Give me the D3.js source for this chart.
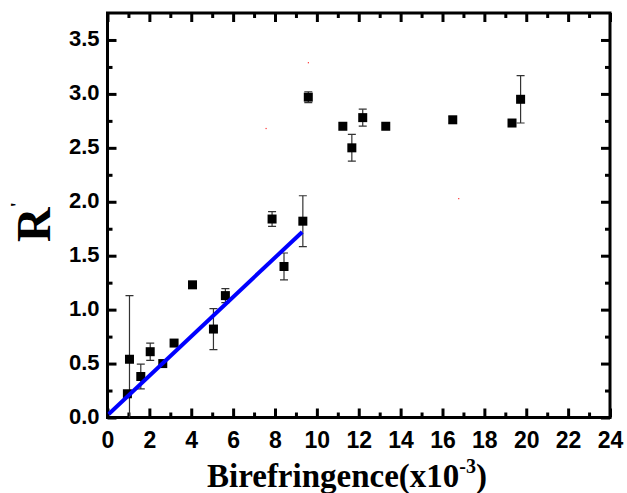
<!DOCTYPE html>
<html>
<head>
<meta charset="utf-8">
<script src="https://cdn.jsdelivr.net/npm/d3@7"></script>
<style>
    html, body { margin: 0; padding: 0; background: #ffffff; }
</style>
</head>
<body>
<div id="chart"></div>
<script>
(function () {

    // birefringence (x10^-3) vs R'
    var birefringence = [0.95, 1.05, 1.59, 2.04, 2.64, 3.18, 4.06, 5.06, 5.63, 7.86, 8.43, 9.33, 9.59, 11.24, 11.67, 12.19, 13.29, 16.49, 19.32, 19.73];
    var r_prime = [0.22, 0.54, 0.38, 0.61, 0.50, 0.69, 1.23, 0.82, 1.13, 1.84, 1.40, 1.82, 2.97, 2.70, 2.50, 2.78, 2.70, 2.76, 2.73, 2.95];
    var r_error = [0, 0.59, 0.115, 0.08, 0, 0, 0, 0.19, 0.065, 0.068, 0.125, 0.236, 0.05, 0, 0.124, 0.078, 0, 0.03, 0, 0.22];

    // linear fit, drawn between its two end points
    var fit_x = [0.05, 9.3];
    var fit_y = [0.03, 1.72];

    // stray red specks in the original figure
    var speck_x = [7.57, 9.59, 16.77];
    var speck_y = [2.68, 3.29, 2.03];

    var x_ticks = [0, 2, 4, 6, 8, 10, 12, 14, 16, 18, 20, 22, 24];
    var y_ticks = [0, 0.5, 1.0, 1.5, 2.0, 2.5, 3.0, 3.5];

    var width = 627, height = 493;
    var left = 107.5, right = 610, top = 13, bottom = 417.5;

    var x = d3.scaleLinear().domain([0, 24]).range([left, right]);
    var y = d3.scaleLinear().domain([0, 3.75]).range([bottom, top]);

    var svg = d3.select("#chart").append("svg")
        .attr("width", width)
        .attr("height", height);

    svg.append("clipPath").attr("id", "plotClip")
        .append("rect")
        .attr("x", left).attr("y", top)
        .attr("width", right - left).attr("height", bottom - top);

    // axes with inward ticks on all four sides
    function addAxis(axis, tx, ty, labels) {
        var g = svg.append("g")
            .attr("transform", "translate(" + tx + "," + ty + ")")
            .call(axis);
        g.select(".domain").remove();
        g.selectAll(".tick line").attr("stroke", "#000").attr("stroke-width", 3);
        if (!labels)
            g.selectAll(".tick text").remove();
        return g;
    }

    var x_minor = d3.range(1, 24, 2);
    var y_minor = d3.range(0.25, 3.75, 0.5);

    addAxis(d3.axisTop(x).tickValues(x_minor).tickSize(5).tickFormat(""), 0, bottom, false);
    addAxis(d3.axisBottom(x).tickValues(x_minor).tickSize(5).tickFormat(""), 0, top, false);
    addAxis(d3.axisRight(y).tickValues(y_minor).tickSize(5).tickFormat(""), left, 0, false);
    addAxis(d3.axisLeft(y).tickValues(y_minor).tickSize(5).tickFormat(""), right, 0, false);

    var gx = addAxis(d3.axisTop(x).tickValues(x_ticks).tickSize(9).tickFormat(d3.format("d")), 0, bottom, true);
    gx.selectAll(".tick text")
        .attr("y", 30.5)
        .attr("dy", 0)
        .style("font-family", "'Liberation Sans', Arial, sans-serif")
        .style("font-weight", "bold")
        .style("font-size", "23px")
        .attr("fill", "#000");
    addAxis(d3.axisBottom(x).tickValues(x_ticks).tickSize(9), 0, top, false);

    var gy = addAxis(d3.axisRight(y).tickValues(y_ticks).tickSize(9).tickFormat(d3.format(".1f")), left, 0, true);
    gy.selectAll(".tick text")
        .attr("x", -8)
        .attr("dy", "5.7px")
        .attr("text-anchor", "end")
        .style("font-family", "'Liberation Sans', Arial, sans-serif")
        .style("font-weight", "bold")
        .style("font-size", "22px")
        .attr("fill", "#000");
    addAxis(d3.axisLeft(y).tickValues(y_ticks).tickSize(9), right, 0, false);

    // frame
    svg.append("rect")
        .attr("x", left).attr("y", top)
        .attr("width", right - left).attr("height", bottom - top)
        .attr("fill", "none")
        .attr("stroke", "#000")
        .attr("stroke-width", 3);

    var points = birefringence.map(function (b, i) {
        return { x: b, y: r_prime[i], err: r_error[i] };
    });
    var with_err = points.filter(function (d) { return d.err > 0; });

    var plot = svg.append("g").attr("clip-path", "url(#plotClip)");

    plot.selectAll("line.err")
        .data(with_err)
        .enter()
        .append("line")
        .attr("class", "err")
        .attr("x1", function (d) { return x(d.x); })
        .attr("x2", function (d) { return x(d.x); })
        .attr("y1", function (d) { return y(d.y - d.err); })
        .attr("y2", function (d) { return y(d.y + d.err); })
        .attr("stroke", "#333")
        .attr("stroke-width", 1.2);

    [-1, 1].forEach(function (s) {
        plot.selectAll("line.cap" + (s + 1))
            .data(with_err)
            .enter()
            .append("line")
            .attr("class", "cap" + (s + 1))
            .attr("x1", function (d) { return x(d.x) - 4; })
            .attr("x2", function (d) { return x(d.x) + 4; })
            .attr("y1", function (d) { return y(d.y + s * d.err); })
            .attr("y2", function (d) { return y(d.y + s * d.err); })
            .attr("stroke", "#333")
            .attr("stroke-width", 1.2);
    });

    plot.selectAll("rect.pt")
        .data(points)
        .enter()
        .append("rect")
        .attr("class", "pt")
        .attr("x", function (d) { return x(d.x) - 4.5; })
        .attr("y", function (d) { return y(d.y) - 4.5; })
        .attr("width", 9)
        .attr("height", 9)
        .attr("fill", "#000");

    plot.selectAll("rect.speck")
        .data(speck_x)
        .enter()
        .append("rect")
        .attr("class", "speck")
        .attr("x", function (d) { return x(d) - 0.5; })
        .attr("y", function (d, i) { return y(speck_y[i]) - 0.5; })
        .attr("width", 1.2)
        .attr("height", 1.2)
        .attr("fill", "#ff3030");

    plot.append("line")
        .attr("x1", x(fit_x[0]))
        .attr("y1", y(fit_y[0]))
        .attr("x2", x(fit_x[1]))
        .attr("y2", y(fit_y[1]))
        .attr("stroke", "#0000ff")
        .attr("stroke-width", 4);

    // axis titles
    var xt = svg.append("text")
        .attr("x", 347)
        .attr("y", 486.5)
        .attr("text-anchor", "middle")
        .style("font-family", "'Liberation Serif', 'Times New Roman', serif")
        .style("font-weight", "bold")
        .style("font-size", "33px")
        .attr("fill", "#000");
    xt.append("tspan").text("Birefringence(x10");
    xt.append("tspan").attr("dy", -14).style("font-size", "20px").text("-3");
    xt.append("tspan").attr("dy", 14).text(")");

    var yt = svg.append("text")
        .attr("transform", "translate(50,242) rotate(-90)")
        .attr("text-anchor", "start")
        .style("font-family", "'Liberation Serif', 'Times New Roman', serif")
        .style("font-weight", "bold")
        .style("font-size", "48px")
        .attr("fill", "#000");
    yt.append("tspan").text("R");
    yt.append("tspan").attr("dy", -26).style("font-size", "18px").text("'");
})();
</script>
</body>
</html>
